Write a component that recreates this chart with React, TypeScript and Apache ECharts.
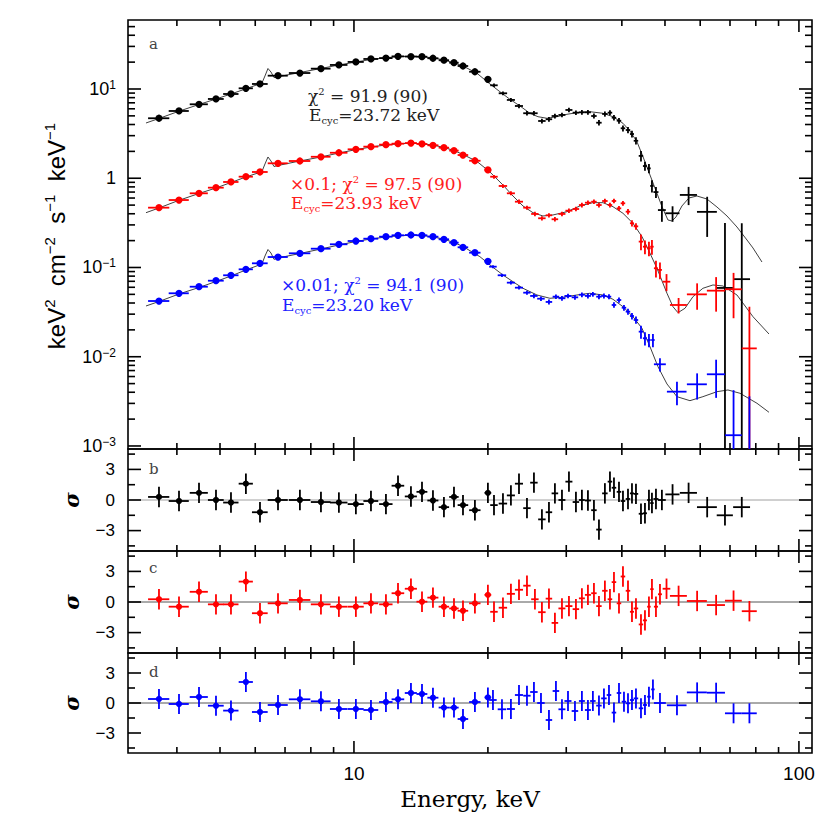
import React, { useEffect, useRef } from 'react';
import * as echarts from 'echarts';

// ---------------- axis ranges & ticks ----------------
const X_RANGE = [3.106, 107];
const Y_RANGE = [0.000925, 59.3];
const R_RANGE = [-5, 5];

const X_TICK_MAJOR = [10, 100];
const X_TICK_MINOR = [4, 5, 6, 7, 8, 9, 20, 30, 40, 50, 60, 70, 80, 90];
const X_LABELS = ['10', '100'];

const Y_TICK_MAJOR = [0.001, 0.01, 0.1, 1, 10];
const Y_TICK_MINOR = [
  0.002, 0.003, 0.004, 0.005, 0.006, 0.007, 0.008, 0.009,
  0.02, 0.03, 0.04, 0.05, 0.06, 0.07, 0.08, 0.09,
  0.2, 0.3, 0.4, 0.5, 0.6, 0.7, 0.8, 0.9,
  2, 3, 4, 5, 6, 7, 8, 9,
  20, 30, 40, 50,
];
const Y_LABEL_BASE = ['10', '10', '10', '1', '10'];
const Y_LABEL_EXP = ['−3', '−2', '−1', '', '1'];

const R_TICK_MAJOR = [-3, 0, 3];
const R_TICK_MINOR = [-4.5, -1.5, 1.5, 4.5];
const R_LABELS = ['−3', '0', '3'];

// ---------------- data: low-energy bins (circles), shared ----------------
const circleE = [3.646, 4.044, 4.485, 4.897, 5.292, 5.717, 6.149, 6.75, 7.56, 8.43, 9.25, 10.1, 10.92, 11.8, 12.56, 13.43, 14.22, 15.05, 15.93, 16.78, 17.58, 18.7, 20.0];
const circleHW = [0.2, 0.21, 0.21, 0.2, 0.21, 0.21, 0.25, 0.35, 0.42, 0.43, 0.42, 0.42, 0.42, 0.41, 0.41, 0.42, 0.4, 0.43, 0.43, 0.41, 0.48, 0.55, 0.35];

// ---------------- black spectrum ----------------
const blackCrossE = [20.64, 21.62, 22.53, 23.49, 24.48, 25.38, 26.45, 27.43, 28.29, 29.34, 30.42, 31.54, 32.53, 33.56, 34.62, 35.53, 36.64, 37.61, 38.4, 39.41, 40.23, 41.29, 42.15, 43.03, 44.16, 45.08, 46.02, 46.74, 47.72, 49.21, 52.0, 56.5, 62.2, 68.2, 74.4];
const blackCrossHW = [0.4, 0.47, 0.47, 0.49, 0.47, 0.49, 0.51, 0.46, 0.48, 0.53, 0.55, 0.53, 0.5, 0.52, 0.49, 0.5, 0.52, 0.44, 0.45, 0.46, 0.47, 0.48, 0.44, 0.5, 0.51, 0.47, 0.42, 0.42, 0.62, 1.0, 1.9, 2.5, 3.2, 2.85, 3.25];
const blackV = [4.7, 5.67, 6.74, 7.73, 8.79, 10.18, 11.38, 14.1, 15.1, 16.9, 18.6, 20.1, 21.7, 22.2, 23.2, 23.1, 23.0, 22.1, 21.0, 19.7, 18.1, 15.6, 12.85,
  11.0, 8.95, 7.54, 6.45, 5.35, 5.35, 4.38, 4.58, 4.98, 5.12, 5.82, 5.43, 5.48, 5.48, 4.98, 4.19, 5.25, 5.43, 4.77, 4.41, 3.63, 3.47, 3.13, 2.63, 1.78, 1.37, 1.29, 0.82, 0.7, 0.44, 0.405, 0.65, 0.42, 0.059, 0.074];
const blackErr = [0.09, 0.1, 0.12, 0.14, 0.16, 0.18, 0.2, 0.25, 0.27, 0.3, 0.33, 0.36, 0.38, 0.39, 0.4, 0.4, 0.4, 0.39, 0.37, 0.35, 0.33, 0.3, 0.26,
  0.5, 0.45, 0.4, 0.35, 0.3, 0.3, 0.27, 0.28, 0.3, 0.3, 0.33, 0.32, 0.33, 0.33, 0.32, 0.3, 0.35, 0.36, 0.33, 0.32, 0.28, 0.28, 0.27, 0.24, 0.24, 0.16, 0.15, 0.13, 0.1, 0.115, 0.08, 0.15, 0.2, 0.256, 0.24];
const blackRes = [0.3, -0.1, 0.7, 0, -0.25, 1.6, -1.2, 0, 0, -0.2, -0.25, -0.4, -0.1, -0.4, 1.4, 0.35, 0.8, -0.05, -0.7, 0.3, -0.5, -1.0, 0.7,
  -0.5, -0.35, 0.45, 1.6, -0.8, 1.7, -1.9, -1.2, 0.65, 0, 1.8, -0.2, 0, -0.05, -1.0, -2.9, 0.65, 1.8, 1.2, 0.8, -0.1, 0.1, 0.65, 0.6, -1.35, -1.3, 0, -0.3, 0.1, 0, 0.55, 0.7, -0.7, -1.5, -0.7];

// ---------------- red spectrum (x0.1) ----------------
const redCrossE = [20.64, 21.62, 22.53, 23.49, 24.48, 25.51, 26.45, 27.43, 28.29, 29.34, 30.42, 31.54, 32.53, 33.56, 34.62, 35.53, 36.64, 37.61, 38.4, 39.41, 40.23, 41.29, 42.15, 43.03, 44.16, 45.08, 46.02, 46.74, 47.72, 48.72, 50.4, 53.65, 59.05, 65.15, 71.3, 77.4];
const redCrossHW = [0.4, 0.47, 0.47, 0.49, 0.47, 0.49, 0.51, 0.46, 0.48, 0.53, 0.55, 0.53, 0.5, 0.52, 0.49, 0.5, 0.52, 0.44, 0.45, 0.46, 0.47, 0.48, 0.44, 0.5, 0.51, 0.47, 0.42, 0.42, 0.5, 0.5, 1.0, 2.35, 3.05, 3.05, 3.1, 3.0];
const redV = [0.468, 0.57, 0.678, 0.784, 0.908, 1.041, 1.175, 1.47, 1.56, 1.74, 1.93, 2.11, 2.26, 2.38, 2.44, 2.48, 2.42, 2.34, 2.2, 2.04, 1.82, 1.57, 1.24,
  1.04, 0.819, 0.678, 0.546, 0.468, 0.398, 0.356, 0.3845, 0.347, 0.398, 0.433, 0.452, 0.501, 0.532, 0.546, 0.501, 0.556, 0.501, 0.556, 0.46, 0.524, 0.422, 0.313, 0.289, 0.195, 0.171, 0.164, 0.171, 0.098, 0.094, 0.0693, 0.038, 0.05, 0.055, 0.057, 0.0124];
const redErr = [0.01, 0.012, 0.014, 0.016, 0.018, 0.02, 0.024, 0.03, 0.03, 0.035, 0.04, 0.04, 0.045, 0.045, 0.05, 0.05, 0.05, 0.045, 0.045, 0.04, 0.035, 0.03, 0.025,
  0.05, 0.04, 0.035, 0.03, 0.025, 0.022, 0.02, 0.022, 0.02, 0.022, 0.025, 0.026, 0.03, 0.03, 0.032, 0.03, 0.033, 0.03, 0.033, 0.03, 0.033, 0.03, 0.025, 0.025, 0.039, 0.03, 0.03, 0.032, 0.021, 0.02, 0.015, 0.0075, 0.0164, 0.023, 0.03, 0.024];
const redRes = [0.27, -0.46, 1.0, -0.23, -0.23, 2.0, -1.1, -0.13, 0.2, -0.23, -0.46, -0.46, -0.13, -0.23, 0.86, 1.3, 0.03, 0.43, -0.46, -0.63, -0.86, -0.13, 0.7,
  -0.96, -0.56, 0.8, 1.2, 1.6, 0.27, -1.0, 0.33, -2.05, -0.63, -0.4, -0.7, 0.36, 0.7, 0.86, -0.4, 1.1, 0.27, 1.95, -0.13, 2.5, 1.1, -0.96, -0.63, -2.2, -1.8, -0.46, 1.26, -0.46, 0.76, 1.3, 0.6, 0.1, -0.3, 0.13, -0.9];

// ---------------- blue spectrum (x0.01) ----------------
const blueCrossE = [20.53, 21.51, 22.53, 23.49, 24.48, 25.38, 26.32, 27.43, 28.44, 29.34, 30.27, 31.38, 32.53, 33.56, 34.43, 35.53, 36.46, 37.42, 38.4, 39.41, 40.44, 41.29, 42.15, 43.03, 44.16, 45.08, 46.02, 46.98, 48.72, 53.2, 59.05, 65.15, 71.3, 77.4];
const blueCrossHW = [0.4, 0.47, 0.47, 0.49, 0.47, 0.49, 0.51, 0.46, 0.48, 0.53, 0.55, 0.53, 0.5, 0.52, 0.49, 0.5, 0.52, 0.44, 0.45, 0.46, 0.47, 0.48, 0.44, 0.5, 0.51, 0.47, 0.42, 0.42, 1.5, 2.7, 3.05, 3.05, 3.1, 3.0];
const blueV = [0.0421, 0.0514, 0.0609, 0.0711, 0.0818, 0.0954, 0.1114, 0.131, 0.1442, 0.1624, 0.182, 0.198, 0.2102, 0.2214, 0.2295, 0.2312, 0.2295, 0.2214, 0.207, 0.1896, 0.1684, 0.1465, 0.1173,
  0.1021, 0.0818, 0.0676, 0.0594, 0.0522, 0.048, 0.0447, 0.0411, 0.0471, 0.0452, 0.048, 0.0463, 0.0495, 0.048, 0.0501, 0.0471, 0.048, 0.0471, 0.038, 0.0432, 0.0354, 0.032, 0.0286, 0.0258, 0.0191, 0.0161, 0.0154, 0.0154, 0.00823, 0.00406, 0.00491, 0.00636, 0.00132, 0.0006];
const blueErr = [0.0009, 0.001, 0.0012, 0.0014, 0.0016, 0.0019, 0.0022, 0.0026, 0.0029, 0.0032, 0.0036, 0.004, 0.0042, 0.0044, 0.0046, 0.0046, 0.0046, 0.0044, 0.0041, 0.0038, 0.0034, 0.003, 0.0025,
  0.004, 0.0035, 0.003, 0.0028, 0.0027, 0.0027, 0.0026, 0.0026, 0.0028, 0.0028, 0.0029, 0.0029, 0.003, 0.003, 0.003, 0.003, 0.003, 0.003, 0.0027, 0.003, 0.0026, 0.0025, 0.0024, 0.0024, 0.0032, 0.0027, 0.0026, 0.0026, 0.0014, 0.0012, 0.0016, 0.0029, 0.0029, 0.003];
const blueRes = [0.4, -0.1, 0.6, -0.27, -0.76, 2.1, -0.9, -0.2, 0.37, 0.17, -0.6, -0.6, -0.7, 0.1, 0.37, 1.0, 0.9, 0.53, -0.46, -0.46, -1.6, 0.1, 0.56,
  0.3, -0.63, -0.6, 0.8, 0.73, 1.1, 0, -1.7, 1.2, -0.63, 0.2, -0.8, 0.2, -0.7, 0.2, -0.26, 0.46, 0.8, -0.96, 1.0, 0.13, -0.03, 0.3, 0.46, -0.53, -0.2, 0.63, 1.36, 0, -0.23, 1.06, 1.03, -1.03, -1.03];

// ---------------- model curves ----------------
const blackModelE = [3.409, 3.646, 4.044, 4.485, 4.897, 5.292, 5.717, 6.084, 6.212, 6.31, 6.409, 6.509, 6.611, 6.75, 7.56, 8.43, 9.25, 10.1, 10.92, 11.8, 12.56, 13.43, 14.22, 15.05, 15.93, 16.78, 17.58, 18.9, 20.21, 21.28, 22.41, 23.61, 24.86, 25.91, 27.15, 28.59, 30.11, 31.7, 33.9, 36.27, 38.2, 40.23, 41.71, 43.25, 44.62, 46.27, 47.97, 49.23, 50.78, 51.84, 52.93, 54.59, 56.6, 58.99, 62.12, 65.43, 68.92, 72.57, 76.43, 78.84, 82.59];
const blackModelV = [4.159, 4.673, 5.64, 6.705, 7.727, 8.79, 10.05, 11.23, 11.67, 13.99, 16.97, 15.5, 13.45, 13.7, 15.3, 16.97, 18.58, 20.07, 21.4, 22.42, 23.01, 23.25, 23.01, 22.31, 21.13, 19.66, 18.1, 14.99, 11.38, 9.327, 7.667, 6.45, 5.342, 4.893, 4.697, 4.893, 5.206, 5.425, 5.567, 5.342, 4.893, 4.127, 3.384, 2.567, 1.744, 1.087, 0.6783, 0.48, 0.3405, 0.3319, 0.3681, 0.4888, 0.6007, 0.6325, 0.5854, 0.4763, 0.3777, 0.2843, 0.2033, 0.1654, 0.1152];

const redModelE = [3.409, 3.646, 4.044, 4.485, 4.897, 5.292, 5.717, 6.084, 6.212, 6.31, 6.409, 6.509, 6.611, 6.75, 7.56, 8.43, 9.25, 10.1, 10.92, 11.8, 12.56, 13.43, 14.22, 15.05, 15.93, 16.78, 17.58, 18.9, 20.21, 21.62, 22.77, 23.98, 25.25, 26.59, 28.0, 30.11, 32.2, 34.43, 36.27, 38.2, 40.23, 42.37, 44.39, 45.55, 47.97, 50.52, 52.11, 53.48, 55.45, 57.79, 60.84, 64.09, 67.5, 72.57, 78.84, 85.64];
const redModelV = [0.4111, 0.4642, 0.5662, 0.6748, 0.7777, 0.896, 1.033, 1.145, 1.19, 1.444, 1.73, 1.561, 1.354, 1.389, 1.561, 1.73, 1.918, 2.089, 2.239, 2.358, 2.432, 2.464, 2.432, 2.358, 2.211, 2.046, 1.846, 1.541, 1.175, 0.8402, 0.6325, 0.4888, 0.4111, 0.3777, 0.3875, 0.4218, 0.4888, 0.5323, 0.5323, 0.48, 0.4048, 0.3129, 0.2214, 0.171, 0.0979, 0.05139, 0.03637, 0.03115, 0.0349, 0.04708, 0.05846, 0.06367, 0.06205, 0.04918, 0.0281, 0.01798];

const blueModelE = [3.409, 3.646, 4.044, 4.485, 4.897, 5.292, 5.717, 6.084, 6.212, 6.31, 6.409, 6.509, 6.611, 6.75, 7.56, 8.43, 9.25, 10.1, 10.92, 11.8, 12.56, 13.43, 14.22, 15.05, 15.93, 16.78, 17.58, 19.19, 20.53, 21.62, 22.77, 23.98, 25.78, 27.57, 29.49, 31.7, 33.9, 36.27, 38.2, 40.23, 42.37, 44.39, 46.27, 48.22, 50.52, 53.2, 56.9, 60.84, 65.43, 69.27, 73.71, 80.49, 85.64];
const blueModelV = [0.03703, 0.04159, 0.05047, 0.05968, 0.06968, 0.0803, 0.09376, 0.1053, 0.1094, 0.1345, 0.159, 0.1453, 0.1235, 0.1277, 0.1435, 0.1611, 0.1787, 0.1956, 0.2087, 0.2196, 0.2265, 0.2294, 0.2282, 0.2207, 0.2071, 0.1906, 0.1719, 0.1321, 0.1005, 0.0824, 0.06932, 0.05846, 0.04918, 0.04518, 0.04636, 0.04918, 0.05139, 0.04918, 0.04403, 0.03637, 0.0281, 0.02084, 0.01296, 0.007737, 0.004951, 0.003568, 0.003218, 0.003568, 0.004059, 0.004241, 0.003895, 0.00301, 0.002386];

// ---------------- layout ----------------
const GRIDS = [
  { left: 128, top: 20, width: 684, height: 429 },
  { left: 128, top: 449, width: 684, height: 102 },
  { left: 128, top: 551, width: 684, height: 102 },
  { left: 128, top: 653, width: 684, height: 100 },
];
const FONT_SANS = '"Liberation Sans", Arial, sans-serif';
const FONT_SERIF = '"DejaVu Serif", serif';
const BLACK = '#000000';
const RED = '#ff0000';
const BLUE = '#0000ff';

function errSeries(gi: number, E: number[], HW: number[], V: number[], ERR: number[] | null, nCirc: number,
  color: string, r: number, lw: number, floor: number) {
  const data = E.map((e, i) => [e, V[i], HW[i], ERR ? ERR[i] : 1, i < nCirc ? 1 : 0]);
  return {
    type: 'custom', xAxisIndex: gi, yAxisIndex: gi, clip: true, z: 4, silent: true,
    data,
    renderItem: (_params: any, api: any) => {
      const e = api.value(0), v = api.value(1), hw = api.value(2), er = api.value(3), c = api.value(4);
      const lo = v - er > floor ? v - er : floor;
      const pl = api.coord([e - hw, v]);
      const pr = api.coord([e + hw, v]);
      const pt = api.coord([e, v + er]);
      const pb = api.coord([e, lo]);
      const st = { stroke: color, lineWidth: lw };
      const ch: any[] = [
        { type: 'line', shape: { x1: pl[0], y1: pl[1], x2: pr[0], y2: pr[1] }, style: st },
        { type: 'line', shape: { x1: pt[0], y1: pt[1], x2: pb[0], y2: pb[1] }, style: st },
      ];
      if (c) {
        const p = api.coord([e, v]);
        ch.push({ type: 'circle', shape: { cx: p[0], cy: p[1], r }, style: { fill: color } });
      }
      return { type: 'group', children: ch };
    },
  };
}

function modelSeries(E: number[], V: number[]) {
  return {
    type: 'line', xAxisIndex: 0, yAxisIndex: 0, data: E.map((e, i) => [e, V[i]]),
    showSymbol: false, symbol: 'none', silent: true, z: 3, clip: true,
    lineStyle: { color: '#2a2a2a', width: 0.9 },
  };
}

function zeroSeries(gi: number, color: string) {
  return {
    type: 'line', xAxisIndex: gi, yAxisIndex: gi, data: [[X_RANGE[0], 0], [X_RANGE[1], 0]],
    showSymbol: false, symbol: 'none', silent: true, z: 2,
    lineStyle: { color, width: 1 },
  };
}

const TICK_STYLE = { stroke: '#000', lineWidth: 1.6 };

function xTickSeries(gi: number, yRef: number) {
  return {
    type: 'custom', xAxisIndex: gi, yAxisIndex: gi, silent: true, clip: false, z: 6,
    data: [...X_TICK_MAJOR.map((v) => [v, yRef, 1]), ...X_TICK_MINOR.map((v) => [v, yRef, 0])],
    renderItem: (params: any, api: any) => {
      const cs = params.coordSys;
      const x = api.coord([api.value(0), api.value(1)])[0];
      const len = api.value(2) ? 12 : 6;
      const b = cs.y + cs.height;
      return {
        type: 'group', children: [
          { type: 'line', shape: { x1: x, y1: b, x2: x, y2: b - len }, style: TICK_STYLE },
          { type: 'line', shape: { x1: x, y1: cs.y, x2: x, y2: cs.y + len }, style: TICK_STYLE },
        ],
      };
    },
  };
}

function yTickSeries(gi: number, xRef: number, major: number[], minor: number[], lMaj: number, lMin: number) {
  return {
    type: 'custom', xAxisIndex: gi, yAxisIndex: gi, silent: true, clip: false, z: 6,
    data: [...major.map((v) => [xRef, v, 1]), ...minor.map((v) => [xRef, v, 0])],
    renderItem: (params: any, api: any) => {
      const cs = params.coordSys;
      const y = api.coord([api.value(0), api.value(1)])[1];
      const len = api.value(2) ? lMaj : lMin;
      const r = cs.x + cs.width;
      return {
        type: 'group', children: [
          { type: 'line', shape: { x1: cs.x, y1: y, x2: cs.x + len, y2: y }, style: TICK_STYLE },
          { type: 'line', shape: { x1: r, y1: y, x2: r - len, y2: y }, style: TICK_STYLE },
        ],
      };
    },
  };
}

function mainYLabelSeries() {
  return {
    type: 'custom', xAxisIndex: 0, yAxisIndex: 0, silent: true, clip: false, z: 6,
    data: Y_TICK_MAJOR.map((v) => [10, v]),
    renderItem: (params: any, api: any) => {
      const cs = params.coordSys;
      const y = api.coord([api.value(0), api.value(1)])[1];
      const i = params.dataIndex;
      const exp = Y_LABEL_EXP[i];
      const text = exp ? `{b|${Y_LABEL_BASE[i]}}{s|${exp}}` : `{b|${Y_LABEL_BASE[i]}}`;
      return {
        type: 'text', x: cs.x - 12, y,
        style: {
          text, align: 'right', verticalAlign: 'middle', fill: '#000',
          rich: {
            b: { fontSize: 18, fontFamily: FONT_SANS, lineHeight: 20, fill: '#000' },
            s: { fontSize: 12, fontFamily: FONT_SANS, lineHeight: 10, verticalAlign: 'top', fill: '#000' },
          },
        },
      };
    },
  };
}

function resYLabelSeries(gi: number) {
  return {
    type: 'custom', xAxisIndex: gi, yAxisIndex: gi, silent: true, clip: false, z: 6,
    data: R_TICK_MAJOR.map((v) => [10, v]),
    renderItem: (params: any, api: any) => {
      const cs = params.coordSys;
      const y = api.coord([api.value(0), api.value(1)])[1];
      return {
        type: 'text', x: cs.x - 13, y,
        style: { text: R_LABELS[params.dataIndex], align: 'right', verticalAlign: 'middle', fill: '#000', font: `17px ${FONT_SANS}` },
      };
    },
  };
}

function xLabelSeries(gi: number) {
  return {
    type: 'custom', xAxisIndex: gi, yAxisIndex: gi, silent: true, clip: false, z: 6,
    data: X_TICK_MAJOR.map((v) => [v, 0]),
    renderItem: (params: any, api: any) => {
      const cs = params.coordSys;
      const x = api.coord([api.value(0), api.value(1)])[0];
      return {
        type: 'text', x, y: cs.y + cs.height + 20,
        style: { text: X_LABELS[params.dataIndex], align: 'center', verticalAlign: 'middle', fill: '#000', font: `19px ${FONT_SANS}` },
      };
    },
  };
}

function annot(x: number, y: number, text: string, color: string) {
  return {
    type: 'text', x, y, z: 10,
    style: {
      text, align: 'left', verticalAlign: 'middle', fill: color,
      rich: {
        n: { fontSize: 17, fontFamily: FONT_SERIF, lineHeight: 20, fill: color },
        s: { fontSize: 10, fontFamily: FONT_SERIF, lineHeight: 12, verticalAlign: 'top', fill: color },
        sub: { fontSize: 10, fontFamily: FONT_SERIF, lineHeight: 10, verticalAlign: 'bottom', fill: color },
      },
    },
  };
}

function letter(x: number, y: number, t: string) {
  return { type: 'text', x, y, z: 10, style: { text: t, font: `15px ${FONT_SERIF}`, fill: '#444', align: 'left', verticalAlign: 'middle' } };
}

function sigma(y: number) {
  return {
    type: 'text', x: 71, y, rotation: Math.PI / 2, z: 10,
    style: { text: 'σ', font: `italic bold 21px ${FONT_SERIF}`, fill: '#000', align: 'center', verticalAlign: 'middle' },
  };
}

function buildOption() {
  const hidden = { axisLine: { show: false }, axisTick: { show: false }, axisLabel: { show: false }, splitLine: { show: false } };
  const grid = GRIDS.map((g) => ({ ...g, show: true, borderColor: '#000', borderWidth: 1.6, backgroundColor: 'transparent' }));
  const xAxis = GRIDS.map((_, i) => ({ type: 'log', logBase: 10, gridIndex: i, min: X_RANGE[0], max: X_RANGE[1], ...hidden }));
  const yAxis = GRIDS.map((_, i) => (i === 0
    ? { type: 'log', logBase: 10, gridIndex: 0, min: Y_RANGE[0], max: Y_RANGE[1], ...hidden }
    : { type: 'value', gridIndex: i, min: R_RANGE[0], max: R_RANGE[1], ...hidden }));

  const nC = circleE.length;
  const bE = [...circleE, ...blackCrossE], bHW = [...circleHW, ...blackCrossHW];
  const rE = [...circleE, ...redCrossE], rHW = [...circleHW, ...redCrossHW];
  const uE = [...circleE, ...blueCrossE], uHW = [...circleHW, ...blueCrossHW];

  const series: any[] = [
    modelSeries(blackModelE, blackModelV),
    modelSeries(redModelE, redModelV),
    modelSeries(blueModelE, blueModelV),
    errSeries(0, bE, bHW, blackV, blackErr, nC, BLACK, 3.6, 1.8, 1e-5),
    errSeries(0, rE, rHW, redV, redErr, nC, RED, 3.6, 1.8, 1e-5),
    errSeries(0, uE, uHW, blueV, blueErr, nC, BLUE, 3.6, 1.8, 1e-5),
    zeroSeries(1, '#a0a0a0'),
    zeroSeries(2, '#555555'),
    zeroSeries(3, '#555555'),
    errSeries(1, bE, bHW, blackRes, null, nC, BLACK, 3.1, 1.8, -100),
    errSeries(2, rE, rHW, redRes, null, nC, RED, 3.1, 1.8, -100),
    errSeries(3, uE, uHW, blueRes, null, nC, BLUE, 3.1, 1.8, -100),
    xTickSeries(0, 1), xTickSeries(1, 0), xTickSeries(2, 0), xTickSeries(3, 0),
    yTickSeries(0, 10, Y_TICK_MAJOR, Y_TICK_MINOR, 13, 7),
    yTickSeries(1, 10, R_TICK_MAJOR, R_TICK_MINOR, 13, 7),
    yTickSeries(2, 10, R_TICK_MAJOR, R_TICK_MINOR, 13, 7),
    yTickSeries(3, 10, R_TICK_MAJOR, R_TICK_MINOR, 13, 7),
    mainYLabelSeries(),
    resYLabelSeries(1), resYLabelSeries(2), resYLabelSeries(3),
    xLabelSeries(3),
  ];

  const graphic: any[] = [
    {
      type: 'text', x: 56, y: 236, rotation: Math.PI / 2, z: 10,
      style: {
        text: '{n|keV}{s|2}{n|  cm}{s|−2}{n|  s}{s|−1}{n|  keV}{s|−1}',
        align: 'center', verticalAlign: 'middle', fill: '#000',
        rich: {
          n: { fontSize: 24, fontFamily: FONT_SANS, lineHeight: 29, fill: '#000' },
          s: { fontSize: 15, fontFamily: FONT_SANS, lineHeight: 14, verticalAlign: 'top', fill: '#000' },
        },
      },
    },
    sigma(500), sigma(602), sigma(703),
    {
      type: 'text', x: 470, y: 799, z: 10,
      style: { text: 'Energy, keV', font: `23px ${FONT_SERIF}`, fill: '#000', align: 'center', verticalAlign: 'middle' },
    },
    annot(308, 96, '{n|χ}{s|2}{n| = 91.9 (90)}', '#222222'),
    annot(309, 115, '{n|E}{sub|cyc}{n|=23.72 keV}', '#222222'),
    annot(290, 184, '{n|×0.1; χ}{s|2}{n| = 97.5 (90)}', '#ff2020'),
    annot(291, 203, '{n|E}{sub|cyc}{n|=23.93 keV}', '#ff2020'),
    annot(281, 285, '{n|×0.01; χ}{s|2}{n| = 94.1 (90)}', '#2020ff'),
    annot(282, 305, '{n|E}{sub|cyc}{n|=23.20 keV}', '#2020ff'),
    letter(149, 44, 'a'), letter(149, 469, 'b'), letter(149, 568, 'c'), letter(149, 672, 'd'),
  ];

  return { animation: false, backgroundColor: '#ffffff', grid, xAxis, yAxis, series, graphic };
}

export default function App() {
  const ref = useRef<HTMLDivElement>(null);
  useEffect(() => {
    document.body.style.margin = '0';
    if (!ref.current) return;
    const chart = echarts.init(ref.current, undefined, { renderer: 'svg' });
    chart.setOption(buildOption() as any);
    return () => chart.dispose();
  }, []);
  return <div ref={ref} style={{ width: 830, height: 830, background: '#fff' }} />;
}
